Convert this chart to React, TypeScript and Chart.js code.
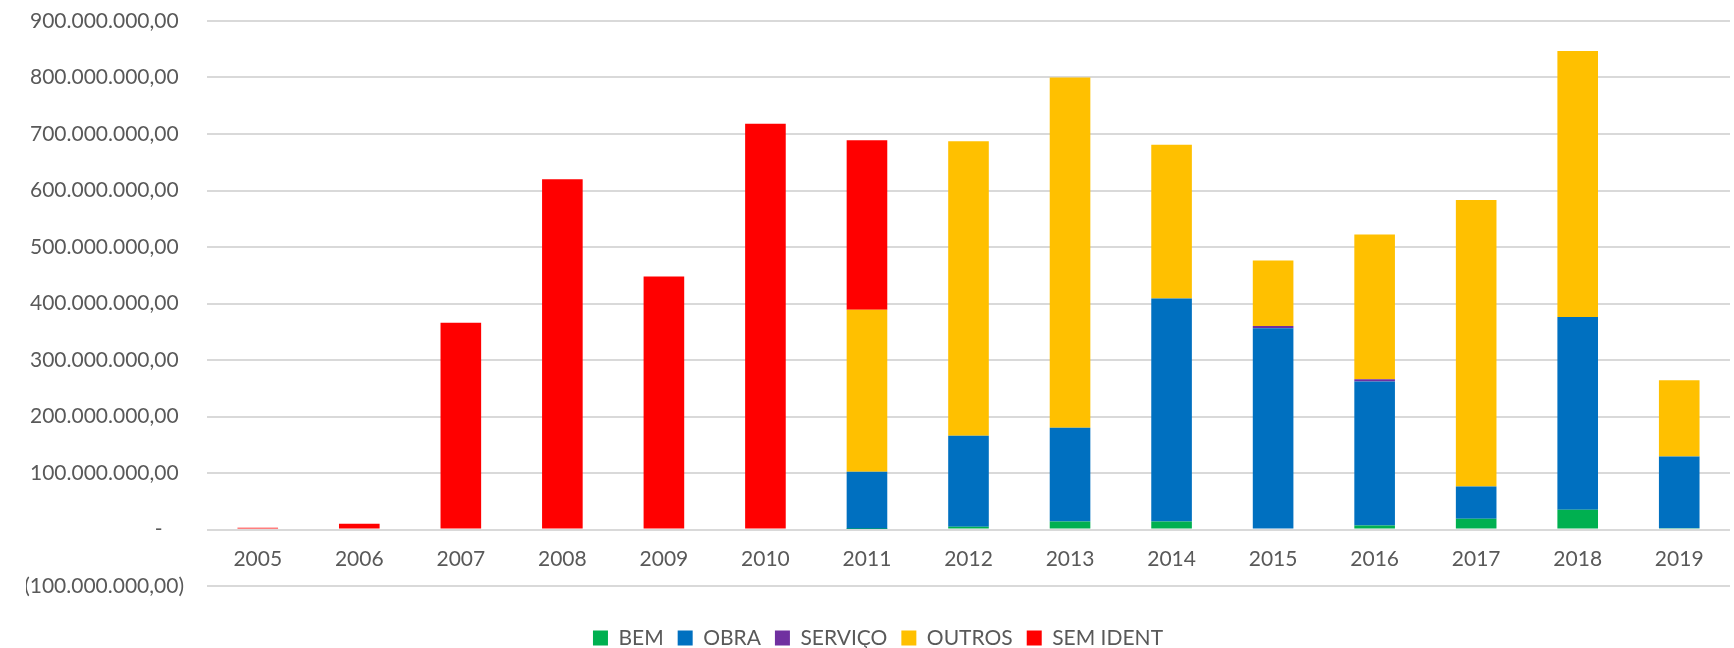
import React, { useEffect, useRef } from 'react';
import { Chart, registerables } from 'chart.js';

Chart.register(...registerables);

const years = ['2005', '2006', '2007', '2008', '2009', '2010', '2011', '2012', '2013', '2014', '2015', '2016', '2017', '2018', '2019'];

const bem = [0, 0, 0, 0, 0, 0, 1_000_000, 5_000_000, 14_000_000, 14_000_000, 0, 7_000_000, 19_000_000, 35_000_000, 2_000_000];
const obra = [0, 0, 0, 0, 0, 0, 101_000_000, 161_000_000, 166_000_000, 395_000_000, 356_000_000, 255_000_000, 57_000_000, 341_000_000, 127_000_000];
const servico = [0, 0, 0, 0, 0, 0, 0, 0, 0, 0, 4_000_000, 4_000_000, 0, 0, 0];
const outros = [0, 0, 0, 0, 0, 0, 287_000_000, 521_000_000, 620_000_000, 272_000_000, 116_000_000, 256_000_000, 507_000_000, 471_000_000, 135_000_000];
const semIdent = [3_000_000, 10_000_000, 366_000_000, 620_000_000, 448_000_000, 718_000_000, 300_000_000, 0, 0, 0, 0, 0, 0, 0, 0];

const seriesNames = ['BEM', 'OBRA', 'SERVIÇO', 'OUTROS', 'SEM IDENT'];
const seriesColors = ['#00B050', '#0070C0', '#7030A0', '#FFC000', '#FF0000'];

const yMin = -100_000_000;
const yMax = 900_000_000;
const yStep = 100_000_000;

const textColor = '#595959';
const fontFamily = 'Lato, "Open Sans", sans-serif';
const fontSize = 21;

function fmt(v: number): string {
  if (v === 0) return '-    ';
  const abs = Math.abs(v);
  const intPart = Math.round(abs).toString().replace(/\B(?=(\d{3})+(?!\d))/g, '.');
  const s = intPart + ',00';
  return v < 0 ? '(' + s + ')' : s + ' ';
}

export default function App() {
  const ref = useRef<HTMLCanvasElement>(null);
  useEffect(() => {
    document.body.style.margin = '0';
    const values = [bem, obra, servico, outros, semIdent];
    const chart = new Chart(ref.current!, {
      type: 'bar',
      data: {
        labels: years,
        datasets: values.map((d, i) => ({
          label: seriesNames[i],
          data: d,
          backgroundColor: seriesColors[i],
          borderWidth: 0,
          categoryPercentage: 1,
          barPercentage: 0.4,
        })),
      },
      options: {
        animation: false,
        responsive: false,
        maintainAspectRatio: false,
        layout: { padding: { top: 21, right: 4, left: 26, bottom: -10.5 } },
        plugins: {
          legend: {
            position: 'bottom',
            title: { display: true, text: '', font: { size: 1 }, padding: { top: 26.3, bottom: 0 } },
            labels: {
              boxWidth: 15,
              boxHeight: 15,
              padding: 14,
              color: textColor,
              font: { family: fontFamily, size: fontSize },
            },
          },
          tooltip: { enabled: false },
        },
        scales: {
          x: {
            stacked: true,
            position: { y: 0 } as any,
            grid: { display: false, drawTicks: false },
            border: { display: false },
            ticks: { color: textColor, font: { family: fontFamily, size: fontSize }, padding: 17, maxRotation: 0 },
          },
          y: {
            stacked: true,
            min: yMin,
            max: yMax,
            ticks: {
              stepSize: yStep,
              callback: (v: any) => fmt(Number(v)),
              padding: 23,
              color: textColor,
              font: { family: fontFamily, size: fontSize },
            },
            grid: { color: '#d9d9d9', lineWidth: 2, drawTicks: false },
            border: { display: false },
            afterFit: (s: any) => { s.width = 181; s.paddingTop = 0; },
          },
        },
      },
    });
    return () => chart.destroy();
  }, []);
  return (
    <div style={{ width: 1734, height: 648 }}>
      <canvas ref={ref} width={1734} height={648} />
    </div>
  );
}
